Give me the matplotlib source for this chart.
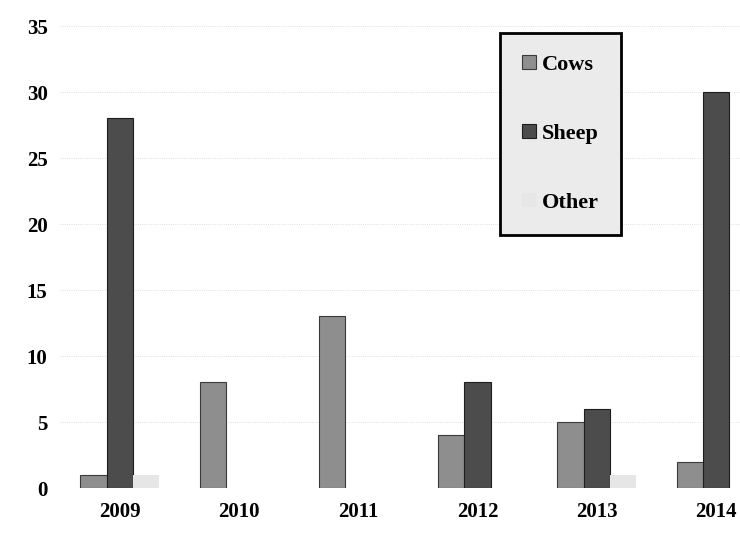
import numpy as np
import matplotlib
matplotlib.use('Agg')
import matplotlib.pyplot as plt

# data
years = ['2009', '2010', '2011', '2012', '2013', '2014']
cows = [1, 8, 13, 4, 5, 2]
sheep = [28, 0, 0, 8, 6, 30]
other = [1, 0, 0, 0, 1, 0]
yticks = [0, 5, 10, 15, 20, 25, 30, 35]

plt.rcParams['font.family'] = ['Liberation Serif', 'DejaVu Serif']
plt.rcParams['font.weight'] = 'bold'

fig = plt.figure(figsize=(7.4, 5.33), dpi=100)
ax = fig.add_axes([60 / 740, 45 / 533, 680 / 740, 462 / 533])

x = np.arange(len(years))
w = 0.22


def edges(vals, c):
    # no outline on empty bars
    return [c if v > 0 else 'none' for v in vals]


ax.bar(x - w, cows, w, color='#8e8e8e', edgecolor=edges(cows, '#3a3a3a'), linewidth=0.8, label='Cows', zorder=3)
ax.bar(x, sheep, w, color='#4c4c4c', edgecolor=edges(sheep, '#1e1e1e'), linewidth=0.8, label='Sheep', zorder=3)
ax.bar(x + w, other, w, color='#e6e6e6', edgecolor='none', label='Other', zorder=3)

ax.set_xlim(-0.5, 5.2)
ax.set_ylim(0, 35)
ax.set_xticks(x)
ax.set_xticklabels(years)
ax.set_yticks(yticks)
ax.tick_params(length=0, labelsize=15)
ax.tick_params(axis='x', pad=10)
ax.tick_params(axis='y', pad=9)
for s in ax.spines.values():
    s.set_visible(False)
ax.yaxis.grid(True, linestyle=':', color='#aaaaaa', linewidth=0.6, alpha=0.5)
ax.set_axisbelow(True)

leg = ax.legend(loc='upper left', bbox_to_anchor=(500 / 740, 1 - 33 / 533),
                bbox_transform=fig.transFigure, fontsize=16, frameon=True,
                fancybox=False, framealpha=1, handlelength=0.6, handleheight=0.6,
                handletextpad=0.3, labelspacing=2.2, borderpad=1.0,
                borderaxespad=0)
leg.get_frame().set_facecolor('#ebebeb')
leg.get_frame().set_edgecolor('black')
leg.get_frame().set_linewidth(2)

fig.savefig('out.png', dpi=100)
